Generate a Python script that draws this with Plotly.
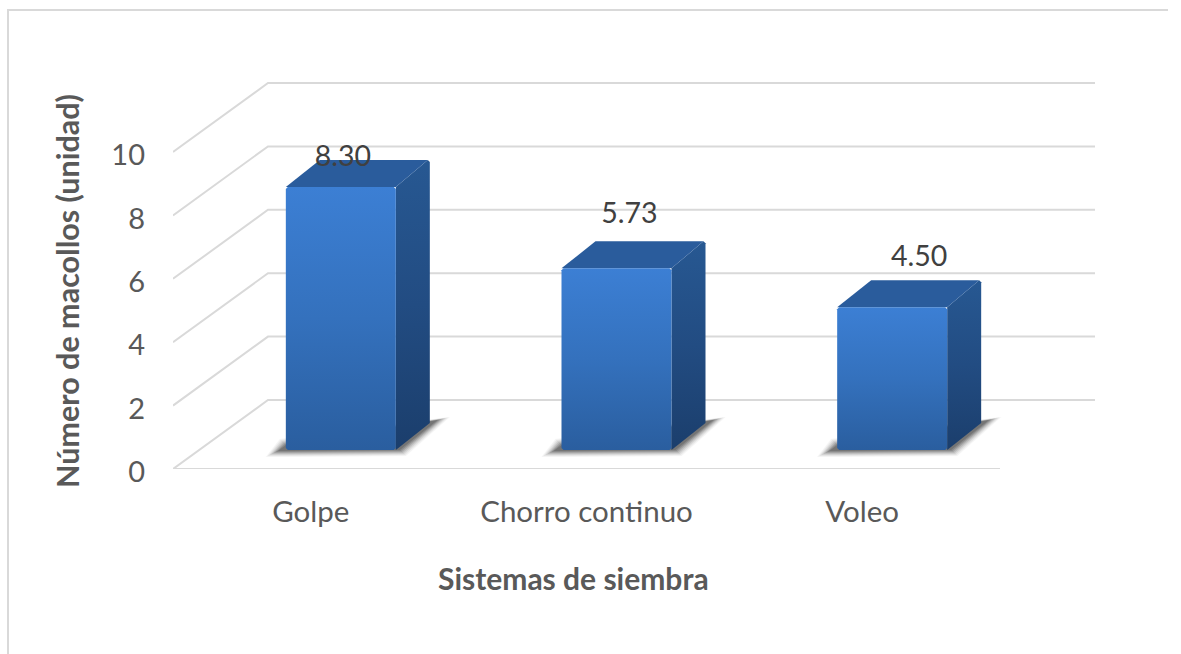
import plotly.graph_objects as go

categories = ["Golpe", "Chorro continuo", "Voleo"]
values = [8.30, 5.73, 4.50]
value_labels = ["8.30", "5.73", "4.50"]
y_ticks = [0, 2, 4, 6, 8, 10]

X_TITLE = "Sistemas de siembra"
Y_TITLE = "Número de macollos (unidad)"

# Pixel geometry of the oblique projection
W, H = 1181, 654
LEFT, RIGHT, TOP, BOTTOM = 173, 1095, 81, 469
PX_PER_CAT = 827 / 3
PX_PER_UNIT = 31.7
WALL_DX, WALL_DY = 95, 69
BAR_SHIFT_X, BAR_LIFT = 30, 19
BAR_W = 110
BAR_DX, BAR_DY = 34, 27
CH = 2  # small chamfer on bar corners
# label placement relative to each bar (px): x shift from front centre, y above front top
LABEL_OFFS = [(2, 28), (13, 52), (27, 48)]

GRID = "#d9d9d9"
TEXT = "#595959"
FONT = "Lato"


def ux(px):
    return px / PX_PER_CAT


def uy(px):
    return px / PX_PER_UNIT


def paper_x(px):
    return (px - LEFT) / (RIGHT - LEFT)


def paper_y(px):
    return (BOTTOM - px) / (BOTTOM - TOP)


fig = go.Figure()


def poly(xs, ys, color=None, grad=None, opacity=1):
    kw = dict(fillcolor=color) if color else dict(
        fillgradient=dict(type="vertical", colorscale=grad))
    fig.add_trace(go.Scatter(x=xs, y=ys, mode="lines", fill="toself", line=dict(width=0),
                             opacity=opacity, hoverinfo="skip", showlegend=False, **kw))


def seg(xs, ys):
    fig.add_trace(go.Scatter(x=xs, y=ys, mode="lines", line=dict(color=GRID, width=2),
                             hoverinfo="skip", showlegend=False))


x0, x1 = 0.5, 3.5
dx, dy = ux(WALL_DX), uy(WALL_DY)

# Wall grid and floor
for t in y_ticks:
    seg([x0, x0 + dx, x1 + dx], [t, t + dy, t + dy])
seg([x0, x1], [0, 0])

# Bars (gradient stops run bottom to top)
FRONT = [[0, "#2a5e9f"], [0.5, "#3471bd"], [1, "#3c7fd4"]]
SIDE = [[0, "#1b3e6c"], [0.5, "#224c82"], [1, "#275892"]]
TOPF = "#2a5c9c"

for i, v in enumerate(values):
    xl = (i + 1) + ux(BAR_SHIFT_X - BAR_W / 2)
    xr = xl + ux(BAR_W)
    yb = uy(BAR_LIFT)
    yt = yb + v
    bx, by = ux(BAR_DX), uy(BAR_DY)
    cx, cy = ux(CH), uy(CH)

    # soft shadow layers on the floor
    for g, op in ((8, 0.05), (6, 0.08), (4, 0.11), (2, 0.15), (0, 0.20), (-2, 0.26), (-4, 0.30)):
        poly([xl + ux(-12 - g), xl + ux(-2 - g / 2), xr + bx + ux(12 + g), xr + ux(6 + g / 2), xl],
             [yb - uy(3 + g / 2), yb + uy(7 + g / 2), yb + by + uy(4 + g / 4),
              yb - uy(2 + g / 2), yb - uy(3 + g / 2)],
             color="#444444", opacity=op)

    poly([xr, xr + bx, xr + bx, xr + bx - cx, xr, xr],
         [yb, yb + by, yt + by - cy, yt + by, yt, yb], grad=SIDE)
    poly([xl, xl + bx, xr + bx - cx, xr, xl], [yt, yt + by, yt + by, yt, yt], color=TOPF)
    poly([xl, xl + cx, xr - cx, xr, xr, xr - cx, xl + cx, xl, xl],
         [yb + cy, yb, yb, yb + cy, yt - cy, yt, yt, yt - cy, yb + cy], grad=FRONT)

# Value labels
lab_x, lab_y = [], []
for i, v in enumerate(values):
    ox, oy = LABEL_OFFS[i]
    lab_x.append((i + 1) + ux(BAR_SHIFT_X + ox))
    lab_y.append(uy(BAR_LIFT) + v + uy(oy))
fig.add_trace(go.Scatter(x=lab_x, y=lab_y, mode="text", text=value_labels,
                         textposition="middle center", cliponaxis=False,
                         textfont=dict(family=FONT, size=28.5, color="#404040"),
                         hoverinfo="skip", showlegend=False))

fig.update_layout(
    width=W, height=H, autosize=False,
    paper_bgcolor="white", plot_bgcolor="rgba(0,0,0,0)",
    margin=dict(l=LEFT, r=W - RIGHT, t=TOP, b=H - BOTTOM, pad=0),
    font=dict(family=FONT, color=TEXT),
    showlegend=False,
    xaxis=dict(
        range=[x0, x0 + (RIGHT - LEFT) / PX_PER_CAT],
        tickvals=[1, 2, 3], ticktext=categories, showgrid=False, zeroline=False,
        showline=False, ticks="", ticklabelstandoff=22,
        tickfont=dict(family=FONT, size=29.5, color=TEXT),
    ),
    yaxis=dict(
        range=[0, (BOTTOM - TOP) / PX_PER_UNIT],
        tickvals=y_ticks, showgrid=False, zeroline=False, showline=False, ticks="",
        ticklabelstandoff=27, ticklabelshift=3,
        tickfont=dict(family=FONT, size=29, color=TEXT),
    ),
    annotations=[
        dict(text=X_TITLE, xref="paper", yref="paper", x=paper_x(573), y=paper_y(578),
             xanchor="center", yanchor="middle", showarrow=False,
             font=dict(family=FONT, size=30, color=TEXT, weight="bold")),
        dict(text=Y_TITLE, xref="paper", yref="paper", x=paper_x(67), y=paper_y(291),
             xanchor="center", yanchor="middle", showarrow=False, textangle=-90,
             font=dict(family=FONT, size=30.5, color=TEXT, weight="bold")),
    ],
    shapes=[dict(type="path", xref="paper", yref="paper", layer="below",
                 path=f"M {paper_x(8)} {paper_y(H)} L {paper_x(8)} {paper_y(10)} "
                      f"L {paper_x(1168)} {paper_y(10)}",
                 line=dict(color="#d9d9d9", width=2))],
)

fig.write_html("out.html", config=dict(displayModeBar=False),
               post_script="document.body.style.margin='0';document.body.style.overflow='hidden';")
